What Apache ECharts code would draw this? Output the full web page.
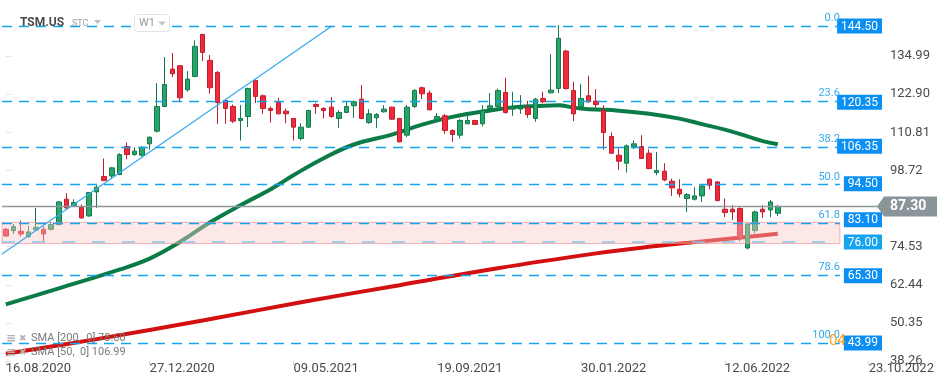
<!DOCTYPE html>
<html><head><meta charset="utf-8">
<script src="https://cdn.jsdelivr.net/npm/echarts@6/dist/echarts.min.js"></script>
<style>html,body{margin:0;padding:0;background:#fff}#c{width:949px;height:385px}</style>
</head><body><div id="c"></div>
<script>
// ---- data (weekly candles, TSM.US) ----
var startDate = [2020, 7, 16]; // 16.08.2020 (month 0-based)
var weekCount = 116;
var tickLabels = ['16.08.2020','27.12.2020','09.05.2021','19.09.2021','30.01.2022','12.06.2022','23.10.2022'];
var opens = [80.04,79.62,79.40,77.71,79.83,80.04,80.04,81.52,89.57,87.66,87.03,84.27,91.89,96.76,96.97,97.40,106.29,103.75,103.54,107.14,111.16,118.99,130.85,131.91,124.27,128.52,141.86,133.60,129.79,120.90,118.99,114.55,115.82,127.25,122.38,118.36,120.26,117.51,115.18,108.83,112.43,119.63,118.36,118.78,115.18,117.09,119.20,121.32,113.91,115.39,117.30,118.78,115.18,109.89,118.99,124.92,123.23,114.97,116.03,111.37,109.89,113.49,114.55,113.49,118.36,118.99,123.44,118.15,118.15,118.57,115.18,121.53,123.32,124.71,136.56,124.07,118.99,122.38,120.69,117.72,109.47,103.54,101.00,106.29,106.29,104.17,98.03,98.46,95.28,92.74,89.78,89.57,90.63,95.92,95.07,86.39,86.39,86.60,74.11,79.62,86.39,86.18,85.12];
var closes = [77.92,80.89,78.56,79.19,80.67,78.56,81.52,88.72,86.81,88.51,83.64,91.68,93.38,95.49,99.52,103.75,103.75,104.81,106.08,109.25,118.99,125.98,129.37,121.74,127.67,138.05,136.14,124.92,120.26,118.36,114.34,115.18,124.71,122.17,118.36,117.72,116.66,116.66,112.43,112.43,117.72,118.99,117.72,115.82,117.09,118.99,120.47,115.18,116.66,116.45,118.15,114.97,107.77,118.78,124.07,123.01,117.93,115.82,111.37,110.10,114.55,114.55,113.28,117.72,119.20,124.07,117.09,118.57,118.57,116.45,121.32,120.47,124.18,140.59,124.71,116.66,121.53,120.47,119.63,110.74,104.17,101.63,106.50,107.14,102.48,99.30,98.67,95.70,93.17,91.26,91.05,90.63,93.80,94.01,89.14,85.33,85.54,77.08,81.73,85.54,85.54,88.72,87.30];
var lows = [77.71,78.56,77.71,77.29,79.62,76.23,79.62,81.31,86.39,87.24,83.43,84.06,86.81,95.28,96.13,97.19,102.27,103.33,103.12,105.23,110.74,118.78,128.31,120.69,123.65,128.31,133.39,123.01,113.49,113.49,113.70,108.20,112.43,120.05,116.66,113.91,116.45,113.70,108.20,108.20,112.22,116.66,115.18,115.39,112.22,116.87,115.39,115.00,113.49,112.22,117.09,114.76,107.60,109.25,118.57,121.32,117.80,114.12,110.31,107.77,108.83,113.40,113.20,112.64,118.20,117.72,116.66,116.03,116.66,115.39,114.12,120.05,123.10,123.23,124.29,114.34,118.78,120.20,118.57,105.23,103.96,98.88,98.03,105.44,102.30,99.09,97.19,95.28,90.63,90.20,85.54,89.14,88.72,92.74,88.93,83.85,83.00,76.23,73.69,78.77,83.64,83.85,84.27];
var highs = [80.46,81.73,82.79,81.10,86.81,80.89,82.37,88.93,91.47,89.57,87.87,91.89,94.01,102.48,99.73,104.17,107.56,106.08,106.29,109.47,126.40,134.66,135.93,132.12,130.21,139.95,142.00,135.29,130.21,121.32,119.63,119.42,124.92,127.46,122.80,118.99,121.74,118.36,115.30,113.70,117.93,120.05,118.78,121.96,117.72,120.47,120.90,125.77,118.15,116.87,119.42,118.90,115.39,119.42,124.49,125.34,124.07,116.87,116.66,111.79,114.97,117.09,114.76,119.42,123.23,124.71,128.09,123.65,122.59,120.69,121.74,123.65,135.61,144.82,136.99,126.83,126.19,128.73,124.49,119.42,110.74,105.66,106.93,108.20,109.89,105.44,104.60,101.00,96.13,95.92,91.47,93.38,94.01,96.13,95.28,89.78,87.66,87.03,81.94,85.97,87.66,89.35,87.66];
// SMA readings: [week index, value]
var sma50 = [[0,56.2],[7,61.3],[15,67.24],[19,70.73],[23,76.0],[27,82.26],[31,87.66],[35,92.74],[38,97.18],[42,102.58],[46,106.93],[51,110.04],[55,113.22],[59,115.7],[64,117.73],[68,118.94],[70,119.1],[73,119.4],[75,118.62],[77,118.14],[81,117.67],[85,116.71],[89,115.13],[92,113.38],[95,111.63],[98,109.5],[100,108.0],[102,106.99]];
var sma200 = [[0,40.56],[12,45.2],[26,51.1],[39,56.9],[52,62.3],[65,67.7],[78,72.4],[84,74.2],[92,76.2],[102,78.6]];
// Fibonacci retracement
var fibLevels = ['0.0','23.6','38.2','50.0','61.8','78.6','100.0'];
var fibLineValues = [144.5,120.78,106.11,94.25,82.0,65.5,43.99];
var fibBoxValues = [144.50,120.35,106.35,94.50,83.10,76.00,65.30,43.99];
var supportValue = 76.00;
var zoneRange = [75.5, 82.2];
var trendLine = [[-0.5,72.2],[43.1,144.5]];
var fibEnd = 110.2;
var lastPrice = 87.30;
var yTicks = [38.26,50.35,62.44,74.53,87.30,98.72,110.81,122.90,134.99];
var yMin = 38.26, yMax = 152.76;
var smaLegend = ['SMA [200,  0] 78.60','SMA [50,  0] 106.99'];

// ---- build ----
function pad(n){return (n<10?'0':'')+n;}
var categories = [];
for (var i=0;i<weekCount;i++){
  var d = new Date(Date.UTC(startDate[0],startDate[1],startDate[2]+7*i));
  categories.push(pad(d.getUTCDate())+'.'+pad(d.getUTCMonth()+1)+'.'+d.getUTCFullYear());
}
var candles = opens.map(function(o,i){return [o,closes[i],lows[i],highs[i]];});
var FONT = 'Roboto, "Noto Sans", sans-serif';

var fibMark = fibLineValues.map(function(v,i){
  return [{coord:[-0.5,v], label:{formatter: fibLevels[i]}},{coord:[fibEnd,v]}];
});
fibMark.push([{coord:[-0.5,supportValue], lineStyle:{color:'#86c3ec',type:[13,17],width:1.5}, label:{show:false}},{coord:[fibEnd,supportValue]}]);
fibMark.push([{coord:[-0.5,lastPrice], lineStyle:{color:'#8e979b',type:'solid',width:1.3}, label:{show:false}},{coord:[115.5,lastPrice]}]);

var chart = echarts.init(document.getElementById('c'));
chart.setOption({
  animation:false,
  textStyle:{fontFamily:FONT},
  grid:{left:2,right:69,top:0,bottom:24,containLabel:false},
  xAxis:[{
    type:'category', data:categories, boundaryGap:true,
    axisLine:{show:false},
    axisTick:{show:true, alignWithLabel:true, length:4, lineStyle:{color:'#d6d6d6'},
      interval:function(i,v){return tickLabels.indexOf(v)>=0;}},
    axisLabel:{interval:function(i,v){return tickLabels.indexOf(v)>=0;}, align:'left', margin:1, fontSize:13, color:'#4a4a4a', fontFamily:FONT},
    splitLine:{show:false}
  },{
    type:'value', min:-0.5, max:weekCount-0.5, show:false
  }],
  yAxis:[{
    type:'value', position:'right', min:yMin, max:yMax, scale:true,
    axisLine:{show:false}, splitLine:{show:false},
    axisTick:{show:true, length:5, lineStyle:{color:'#e2e2e2'}, customValues:yTicks.filter(function(v){return v!==lastPrice;})},
    axisLabel:{customValues:yTicks.filter(function(v){return v!==lastPrice;}), margin:10, fontSize:13, color:'#4a4a4a', fontFamily:FONT,
      formatter:function(v){return v.toFixed(2);}}
  },{
    type:'value', position:'right', min:yMin, max:yMax,
    axisLine:{show:false}, splitLine:{show:false}, axisTick:{show:false},
    axisLabel:{inside:true, margin:-2, customValues:fibBoxValues, fontFamily:FONT,
      formatter:function(v){ return (Math.abs(v-supportValue)<1e-6?'{s|':'{b|')+v.toFixed(2)+'}'; },
      rich:{
        b:{backgroundColor:'#0b8ff3', color:'#fff', fontSize:12, padding:[2,4,1,4], fontFamily:FONT},
        s:{backgroundColor:'#16a4ee', color:'#fff', fontSize:12, padding:[2,4,1,4], fontFamily:FONT}
      }}
  }],
  series:[{
    type:'candlestick', xAxisIndex:0, yAxisIndex:0, data:candles, barWidth:5, z:2,
    itemStyle:{color:'#27a56b', color0:'#f2293b', borderColor:'#147a4b', borderColor0:'#c11e2d', borderWidth:1}
  },{
    type:'line', xAxisIndex:1, yAxisIndex:0, data:sma200, smooth:0.4, showSymbol:false, symbol:'none', z:2,
    lineStyle:{color:'#d40f0f', width:4}
  },{
    type:'line', xAxisIndex:1, yAxisIndex:0, data:sma50, smooth:0.4, showSymbol:false, symbol:'none', z:2,
    lineStyle:{color:'#0b7c47', width:4}
  },{
    type:'line', xAxisIndex:1, yAxisIndex:0, data:trendLine, showSymbol:false, symbol:'none', z:4,
    lineStyle:{color:'#36acf0', width:1.3},
    markArea:{silent:true, z:3, itemStyle:{color:'rgba(250,200,200,0.42)', borderColor:'rgba(238,140,140,0.65)', borderWidth:1},
      data:[[{coord:[-0.5,zoneRange[1]]},{coord:[fibEnd,zoneRange[0]]}]]},
    markLine:{silent:true, z:5, symbol:['none','none'], animation:false,
      lineStyle:{color:'#14a3ef', type:[10,7], width:1.3},
      label:{show:true, position:'insideEndTop', color:'#35a8e8', fontSize:11, distance:[0,2], fontFamily:FONT},
      data:fibMark}
  }]
});

// annotations placed through the chart's own scales
var yPrice = chart.convertToPixel({yAxisIndex:0}, lastPrice);
var xRight = chart.convertToPixel({xAxisIndex:1}, weekCount-0.5);
var y100 = chart.convertToPixel({yAxisIndex:0}, fibLineValues[6]);
var xFibEnd = chart.convertToPixel({xAxisIndex:1}, fibEnd);
chart.setOption({graphic:[
  {type:'polygon', shape:{points:[[xRight-3,yPrice],[xRight+4,yPrice-10],[937,yPrice-10],[937,yPrice+10],[xRight+4,yPrice+10]]}, style:{fill:'#8a9599'}, z:20},
  {type:'text', x:890, y:yPrice, style:{text:lastPrice.toFixed(2), fill:'#fff', font:'bold 14px '+FONT, verticalAlign:'middle'}, z:21},
  {type:'text', x:xFibEnd-11, y:y100-2, style:{text:'04', fill:'#f5a21f', font:'15px '+FONT, verticalAlign:'middle'}, z:6},
  {type:'text', x:20, y:23, style:{text:'TSM.US', fill:'#4a4a4a', font:'bold 12px '+FONT, verticalAlign:'middle'}, z:20},
  {type:'text', x:72, y:24, style:{text:'STC', fill:'#a0a0a0', font:'9px '+FONT, verticalAlign:'middle'}, z:20},
  {type:'polygon', shape:{points:[[94,20],[101,20],[97.5,24]]}, style:{fill:'#bdbdbd'}, z:20},
  {type:'rect', shape:{x:134.5,y:14.5,width:35,height:17,r:3}, style:{fill:'#fff', stroke:'#e3e3e3', lineWidth:1}, z:20},
  {type:'text', x:139, y:23.5, style:{text:'W1', fill:'#9a9a9a', font:'11px '+FONT, verticalAlign:'middle'}, z:21},
  {type:'polygon', shape:{points:[[158,21.5],[166,21.5],[162,25.5]]}, style:{fill:'#c4c4c4'}, z:21},
  {type:'text', x:6, y:338.5, style:{text:'\u2261', fill:'#b0b0b0', font:'bold 12px "DejaVu Sans"', verticalAlign:'middle'}, z:20},
  {type:'text', x:19, y:338.5, style:{text:'\u2716', fill:'#b5b5b5', font:'9px "DejaVu Sans"', verticalAlign:'middle'}, z:20},
  {type:'text', x:31, y:338.5, style:{text:smaLegend[0], fill:'#7a7a7a', font:'11px '+FONT, verticalAlign:'middle'}, z:20},
  {type:'text', x:6, y:352.5, style:{text:'\u2261', fill:'#b0b0b0', font:'bold 12px "DejaVu Sans"', verticalAlign:'middle'}, z:20},
  {type:'text', x:19, y:352.5, style:{text:'\u2716', fill:'#b5b5b5', font:'9px "DejaVu Sans"', verticalAlign:'middle'}, z:20},
  {type:'text', x:31, y:352.5, style:{text:smaLegend[1], fill:'#7a7a7a', font:'11px '+FONT, verticalAlign:'middle'}, z:20}
]});
</script></body></html>
